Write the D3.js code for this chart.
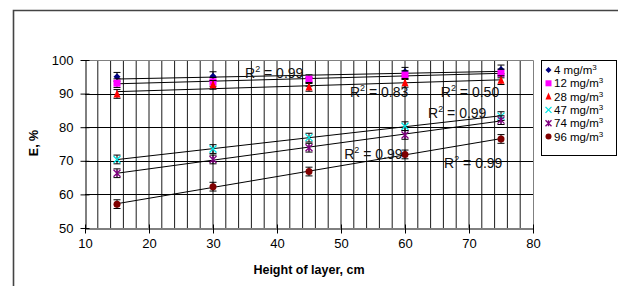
<!DOCTYPE html>
<html><head><meta charset="utf-8">
<script src="https://cdn.jsdelivr.net/npm/d3@7"></script>
<style>body{margin:0;background:#fff}svg{display:block;font-family:"Liberation Sans",Arial,sans-serif}</style>
</head><body><svg id="c" width="618" height="286"></svg>
<script>
const heights = [15, 30, 45, 60, 75];
const seriesNames = ["4 mg/m³", "12 mg/m³", "28 mg/m³", "47 mg/m³", "74 mg/m³", "96 mg/m³"];
const s4  = [95.0, 95.2, 93.5, 96.5, 97.2];
const s12 = [93.1, 93.5, 94.3, 95.5, 96.0];
const s28 = [89.9, 92.6, 92.0, 93.2, 94.0];
const s47 = [70.4, 73.5, 76.9, 80.3, 83.3];
const s74 = [66.3, 70.4, 73.9, 77.7, 82.1];
const s96 = [57.1, 62.3, 66.8, 71.9, 76.5];
const errs = [1.3, 1.3, 1.3, 1.3, 1.3];
const r2Labels = ["0.99", "0.83", "0.50", "0.99", "0.99", "0.99"];
const r2Pos = [[35.0, 94.6], [51.4, 89.0], [65.6, 89.0], [63.6, 82.7], [50.5, 70.5], [66.1, 67.9]];
const xTicks = [10, 20, 30, 40, 50, 60, 70, 80];
const yTicks = [50, 60, 70, 80, 90, 100];
const colors = ["#000080", "#ff00ff", "#ff0000", "#00e5e5", "#800080", "#800000"];
const shapes = ["diamond", "square", "triangle", "x", "star", "circle"];
const allSeries = [s4, s12, s28, s47, s74, s96];

const svg = d3.select("#c");
const x = d3.scaleLinear().domain([10, 80]).range([85, 533]);
const y = d3.scaleLinear().domain([50, 100]).range([228, 60]);

// outer chart border
svg.append("path").attr("d", "M13.5,300 V10.5 H630").attr("fill", "none").attr("stroke", "#444").attr("stroke-width", 1.6);

// vertical grid (every 2)
const vg = d3.range(12, 80, 2);
svg.append("g").selectAll("line").data(vg).join("line")
  .attr("x1", d => x(d)).attr("x2", d => x(d)).attr("y1", y(100)).attr("y2", y(50))
  .attr("stroke", "#000").attr("stroke-width", 0.9);
// horizontal grid
svg.append("g").selectAll("line").data([60, 70, 80, 90]).join("line")
  .attr("x1", x(10)).attr("x2", x(80)).attr("y1", d => Math.round(y(d)) + 0.5).attr("y2", d => Math.round(y(d)) + 0.5)
  .attr("stroke", "#000").attr("stroke-width", 1);
// plot border (top/right gray)
svg.append("path").attr("d", `M${x(10)},${y(100)+0.5} H${x(80)+0.5} V${y(50)}`).attr("fill", "none").attr("stroke", "#808080");

// axes
const yAxis = d3.axisLeft(y).tickValues(yTicks).tickSize(0).tickPadding(12);
const gy = svg.append("g").attr("transform", `translate(${x(10)+0.5},0)`).call(yAxis);
gy.select(".domain").attr("stroke", "#000");
gy.selectAll(".tick line").attr("x1", -5).attr("x2", 4).attr("stroke", "#000");
gy.selectAll("text").attr("font-size", 13).attr("fill", "#000").attr("font-family", "Liberation Sans, Arial");
const xAxis = d3.axisBottom(x).tickValues(xTicks).tickSize(0).tickPadding(10);
const gx = svg.append("g").attr("transform", `translate(0,${y(50)+0.5})`).call(xAxis);
gx.select(".domain").attr("stroke", "#000");
gx.selectAll(".tick line").attr("y1", -4).attr("y2", 5).attr("stroke", "#000");
gx.selectAll("text").attr("font-size", 13).attr("fill", "#000").attr("font-family", "Liberation Sans, Arial");

// axis titles
svg.append("text").attr("x", 309).attr("y", 274).attr("text-anchor", "middle").attr("font-weight", "bold").attr("font-size", 12.5).text("Height of layer, cm");
svg.append("text").attr("transform", "translate(38,143) rotate(-90)").attr("text-anchor", "middle").attr("font-weight", "bold").attr("font-size", 12.5).text("E, %");

// trendlines
function fit(vals) {
  const mx = d3.mean(heights), my = d3.mean(vals);
  let sxy = 0, sxx = 0;
  heights.forEach((h, i) => { sxy += (h - mx) * (vals[i] - my); sxx += (h - mx) ** 2; });
  const b = sxy / sxx; return [b, my - b * mx];
}
allSeries.forEach(vals => {
  const [b, a] = fit(vals);
  svg.append("line").attr("x1", x(15)).attr("x2", x(75)).attr("y1", y(a + b * 15)).attr("y2", y(a + b * 75))
    .attr("stroke", "#000").attr("stroke-width", 1);
});

function marker(g, shape, color, cx, cy, s) {
  if (shape === "diamond") g.append("path").attr("d", `M${cx},${cy-s} L${cx+s},${cy} L${cx},${cy+s} L${cx-s},${cy}Z`).attr("fill", color);
  else if (shape === "square") g.append("rect").attr("x", cx - s).attr("y", cy - s).attr("width", 2*s).attr("height", 2*s).attr("fill", color);
  else if (shape === "triangle") g.append("path").attr("d", `M${cx},${cy-s-1} L${cx+s},${cy+s} L${cx-s},${cy+s}Z`).attr("fill", color);
  else if (shape === "circle") g.append("circle").attr("cx", cx).attr("cy", cy).attr("r", s).attr("fill", color);
  else {
    g.append("path").attr("d", `M${cx-s},${cy-s} L${cx+s},${cy+s} M${cx-s},${cy+s} L${cx+s},${cy-s}` + (shape === "star" ? ` M${cx},${cy-s} L${cx},${cy+s}` : ""))
      .attr("stroke", color).attr("stroke-width", 1.3).attr("fill", "none");
  }
}

// points & error bars
allSeries.forEach((vals, si) => {
  const g = svg.append("g");
  vals.forEach((v, i) => {
    const cx = x(heights[i]), e = errs[i];
    g.append("path").attr("d", `M${cx},${y(v+e)} V${y(v-e)} M${cx-3.5},${y(v+e)} H${cx+3.5} M${cx-3.5},${y(v-e)} H${cx+3.5}`)
      .attr("stroke", "#000").attr("stroke-width", 1).attr("fill", "none");
    marker(g, shapes[si], colors[si], cx, y(v), 3.5);
  });
});

// R2 labels
r2Labels.forEach((t, i) => {
  const tx = svg.append("text").attr("x", x(r2Pos[i][0])).attr("y", y(r2Pos[i][1])).attr("font-size", 14).attr("fill", "#111");
  tx.append("tspan").text("R");
  tx.append("tspan").attr("font-size", 9).attr("dy", -6).text("2");
  tx.append("tspan").attr("dy", 6).text(" = " + t);
});

// legend
svg.append("rect").attr("x", 541.5).attr("y", 60.5).attr("width", 75).attr("height", 95).attr("fill", "#fff").attr("stroke", "#000");
seriesNames.forEach((n, i) => {
  const ly = 70 + i * 13.3;
  const g = svg.append("g");
  marker(g, shapes[i], colors[i], 548.5, ly, 3);
  const parts = n.split("³");
  const t = svg.append("text").attr("x", 554).attr("y", ly + 4).attr("font-size", 11.5).attr("fill", "#000");
  t.append("tspan").text(parts[0]);
  t.append("tspan").attr("font-size", 8).attr("dy", -4).text("3");
});
</script></body></html>
